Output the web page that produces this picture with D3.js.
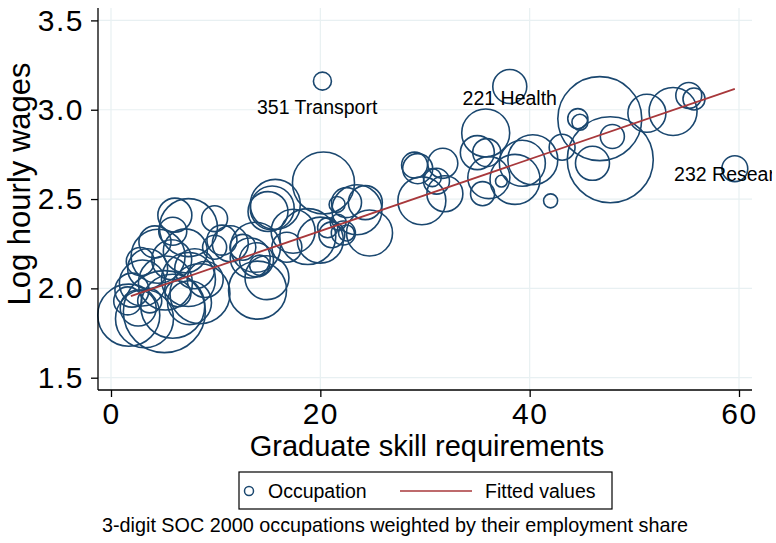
<!DOCTYPE html>
<meta charset="utf-8">
<style>
body { margin: 0; background: #fff; }
svg { font-family: "Liberation Sans", Arial, sans-serif; }
.grid line { stroke: #e8f0f2; stroke-width: 1.2; }
.axis path, .axis line { stroke: #000; stroke-width: 1.3; }
.axis text { font-size: 30px; letter-spacing: 1.5px; fill: #000; }
.occ { fill: none; stroke: #1a476f; stroke-width: 1.6; }
</style>
<body>
<script src="https://d3js.org/d3.v7.min.js"></script>
<script>

// 3-digit SOC occupations: graduate skill requirement, log hourly wage, employment share (%)
var gradSkill = [1.7, 3.2, 5.1, 1.6, 2.0, 3.0, 3.5, 2.8, 4.2, 4.5, 3.7, 2.6,
                 5.9, 7.5, 5.2, 7.4, 8.0, 6.4, 5.8, 9.0, 8.5, 6.1, 5.9, 7.4,
                 9.9, 10.6, 9.9, 11.4, 7.1, 14.0, 12.6, 13.8, 13.9, 14.2, 14.9, 13.3,
                 15.7, 15.4, 15.0, 17.4, 16.8, 18.8, 20.3, 20.0, 21.1, 21.7, 22.5, 20.7,
                 22.2, 22.5, 21.6, 20.2, 24.3, 23.5, 24.7, 29.7, 29.0, 29.3, 31.7, 31.1,
                 31.9, 30.7, 35.8, 35.9, 35.0, 36.1, 37.3, 35.5, 38.6, 39.3, 40.3, 38.1,
                 43.1, 42.0, 44.6, 44.8, 46.7, 47.7, 46.0, 47.9, 51.2, 53.7, 55.2, 55.7,
                 59.6];
var logWage = [1.85, 1.83, 1.87, 1.93, 1.99, 2.03, 2.11, 2.15, 2.26, 2.18, 1.93, 1.89,
               1.90, 1.92, 2.03, 2.05, 2.11, 1.97, 2.16, 2.05, 1.97, 2.41, 2.32, 2.34,
               2.39, 2.27, 2.23, 2.25, 2.21, 1.99, 2.23, 2.23, 2.16, 2.13, 2.06, 2.17,
               2.47, 2.45, 2.43, 2.32, 2.23, 2.29, 2.59, 2.27, 2.30, 2.37, 2.31, 2.34,
               2.31, 2.48, 2.47, 3.16, 2.48, 2.44, 2.31, 2.49, 2.69, 2.67, 2.70, 2.60,
               2.53, 2.62, 2.87, 2.76, 2.76, 2.62, 2.60, 2.53, 2.61, 2.70, 2.72, 3.13,
               2.79, 2.49, 2.95, 2.93, 2.95, 2.72, 2.70, 2.85, 2.98, 2.99, 3.08, 3.06,
               2.67];
var empShare = [3.33, 2.91, 5.82, 0.68, 1.00, 1.83, 1.38, 0.68, 0.89, 2.52, 0.50, 1.12,
                3.54, 1.67, 2.52, 2.52, 1.38, 0.58, 1.38, 1.12, 3.11, 1.00, 0.68, 2.91,
                0.58, 0.78, 0.50, 1.12, 1.67, 2.91, 0.58, 2.16, 1.00, 0.35, 1.67, 1.38,
                2.16, 1.67, 1.38, 1.67, 0.78, 2.71, 3.33, 1.83, 0.58, 0.22, 0.22, 0.35,
                0.50, 0.78, 0.22, 0.28, 1.00, 2.16, 1.83, 1.99, 0.58, 0.78, 0.78, 0.58,
                1.12, 0.28, 1.99, 0.68, 1.00, 1.53, 0.12, 0.50, 2.16, 1.83, 2.16, 1.00,
                0.58, 0.17, 0.35, 0.22, 6.10, 6.40, 1.00, 0.50, 1.25, 1.99, 0.58, 0.42,
                0.58];

// fitted values (endpoints of the regression line)
var fitX = [1.9, 59.6];
var fitY = [1.957, 3.117];

// marker labels
var labelText = ["351 Transport", "221 Health", "232 Research"];
var labelX = [19.7, 38.1, 59.6];
var labelY = [3.015, 3.065, 2.64];

var xTicks = [0, 20, 40, 60];
var yTicks = [1.5, 2.0, 2.5, 3.0, 3.5];

var W = 776, H = 543;
var plot = {left: 98, right: 752, top: 8, bottom: 390};

var x = d3.scaleLinear().domain([0, 60]).range([111, 739]);
var y = d3.scaleLinear().domain([1.5, 3.5]).range([377.7, 20.4]);
var r = d3.scaleSqrt().domain([0, 1]).range([0, 17]);

var svg = d3.select("body").append("svg")
    .attr("width", W)
    .attr("height", H);

svg.append("defs").append("clipPath").attr("id", "clip")
  .append("rect").attr("x", 0).attr("y", 0).attr("width", 772).attr("height", H);

// grid
var grid = svg.append("g").attr("class", "grid");
grid.selectAll(".gy").data(yTicks).enter().append("line")
    .attr("x1", plot.left).attr("x2", plot.right)
    .attr("y1", function(d) { return y(d); })
    .attr("y2", function(d) { return y(d); });
grid.selectAll(".gx").data(xTicks).enter().append("line")
    .attr("y1", plot.top).attr("y2", plot.bottom)
    .attr("x1", function(d) { return x(d); })
    .attr("x2", function(d) { return x(d); });

// bubbles
var data = gradSkill.map(function(d, i) {
  return {x: d, y: logWage[i], w: empShare[i]};
});

svg.append("g").selectAll("circle")
    .data(data)
    .enter().append("circle")
      .attr("class", "occ")
      .attr("cx", function(d) { return x(d.x); })
      .attr("cy", function(d) { return y(d.y); })
      .attr("r", function(d) { return r(d.w); });

// fitted line
svg.append("path")
    .datum(fitX.map(function(d, i) { return [d, fitY[i]]; }))
    .attr("fill", "none")
    .attr("stroke", "#a8383b")
    .attr("stroke-width", 1.8)
    .attr("d", d3.line().x(function(d) { return x(d[0]); }).y(function(d) { return y(d[1]); }));

// labels (the last one runs off the graph edge, as in the original)
svg.append("g").attr("clip-path", "url(#clip)")
  .selectAll("text")
    .data(labelText)
    .enter().append("text")
      .attr("x", function(d, i) { return x(labelX[i]); })
      .attr("y", function(d, i) { return y(labelY[i]); })
      .attr("dy", "0.35em")
      .attr("text-anchor", "middle")
      .style("font-size", "19.5px")
      .text(function(d) { return d; });

// axes
var xAxis = d3.axisBottom(x).tickValues(xTicks).tickSize(7).tickPadding(6)
    .tickFormat(d3.format("d"));
var yAxis = d3.axisLeft(y).tickValues(yTicks).tickSize(7).tickPadding(7)
    .tickFormat(d3.format(".1f"));

var gx = svg.append("g").attr("class", "axis")
    .attr("transform", "translate(0," + plot.bottom + ")")
    .call(xAxis);
gx.select(".domain").attr("d", "M" + plot.left + ",0H" + plot.right);

var gy = svg.append("g").attr("class", "axis")
    .attr("transform", "translate(" + plot.left + ",0)")
    .call(yAxis);
gy.select(".domain").attr("d", "M0," + plot.top + "V" + plot.bottom);

// titles
svg.append("text")
    .attr("x", 427).attr("y", 456)
    .attr("text-anchor", "middle")
    .style("font-size", "29px")
    .text("Graduate skill requirements");

svg.append("text")
    .attr("transform", "translate(30,184) rotate(-90)")
    .attr("text-anchor", "middle")
    .style("font-size", "31px")
    .text("Log hourly wages");

// legend
var lg = svg.append("g");
lg.append("rect")
    .attr("x", 239).attr("y", 472).attr("width", 373).attr("height", 37)
    .attr("fill", "#fff").attr("stroke", "#000").attr("stroke-width", 1.2);
lg.append("circle")
    .attr("cx", 249).attr("cy", 491).attr("r", 4.5)
    .attr("fill", "none").attr("stroke", "#1a476f").attr("stroke-width", 1.5);
lg.append("text")
    .attr("x", 268).attr("y", 498).style("font-size", "19.5px")
    .text("Occupation");
lg.append("line")
    .attr("x1", 400).attr("x2", 472).attr("y1", 491).attr("y2", 491)
    .attr("stroke", "#a8383b").attr("stroke-width", 1.5);
lg.append("text")
    .attr("x", 485).attr("y", 498).style("font-size", "19.5px")
    .text("Fitted values");

// note
svg.append("text")
    .attr("x", 102).attr("y", 532)
    .style("font-size", "19.8px")
    .text("3-digit SOC 2000 occupations weighted by their employment share");

</script>
